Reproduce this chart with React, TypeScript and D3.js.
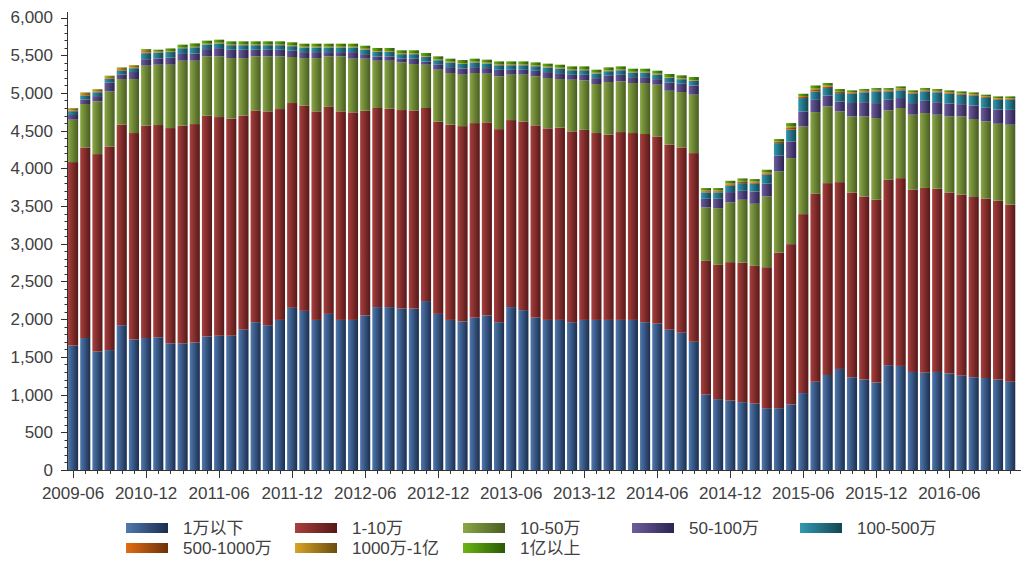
import React from 'react';
import * as d3 from 'd3';

const categories = [
  '2009-06','2009-09','2009-12','2010-03','2010-06','2010-09','2010-12',
  '2011-01','2011-02','2011-03','2011-04','2011-05','2011-06','2011-07','2011-08','2011-09','2011-10','2011-11','2011-12',
  '2012-01','2012-02','2012-03','2012-04','2012-05','2012-06','2012-07','2012-08','2012-09','2012-10','2012-11','2012-12',
  '2013-01','2013-02','2013-03','2013-04','2013-05','2013-06','2013-07','2013-08','2013-09','2013-10','2013-11','2013-12',
  '2014-01','2014-02','2014-03','2014-04','2014-05','2014-06','2014-07','2014-08','2014-09','2014-10','2014-11','2014-12',
  '2015-01','2015-02','2015-03','2015-04','2015-05','2015-06','2015-07','2015-08','2015-09','2015-10','2015-11','2015-12',
  '2016-01','2016-02','2016-03','2016-04','2016-05','2016-06','2016-07','2016-08','2016-09','2016-10','2016-11'
];

const seriesNames = ['1万以下', '1-10万', '10-50万', '50-100万', '100-500万', '500-1000万', '1000万-1亿', '1亿以上'];

const under1w = [1650,1750,1570,1590,1920,1730,1750,1760,1680,1680,
  1690,1770,1780,1780,1860,1960,1920,1990,2150,2110,
  1990,2070,1990,1990,2050,2160,2160,2140,2140,2240,
  2070,1990,1970,2020,2050,1960,2160,2120,2020,1990,
  1990,1960,1990,1990,1990,1990,1990,1960,1940,1860,
  1820,1700,1000,940,920,900,880,820,820,870,
  1020,1170,1260,1340,1230,1200,1160,1390,1380,1300,
  1290,1300,1280,1250,1230,1220,1200,1170];

const w1to10 = [2433,2527,2619,2700,2658,2738,2815,2814,2854,2885,
  2897,2927,2900,2880,2840,2808,2835,2796,2716,2720,
  2765,2745,2765,2752,2714,2640,2630,2633,2628,2560,
  2550,2590,2590,2580,2560,2560,2480,2500,2550,2540,
  2550,2530,2520,2478,2456,2491,2478,2495,2483,2453,
  2457,2502,1773,1780,1836,1851,1827,1869,2063,2125,
  2373,2492,2544,2477,2450,2427,2423,2458,2490,2420,
  2450,2430,2400,2400,2390,2380,2370,2350];

const w10to50 = [562,576,699,730,606,716,796,800,840,862,
  840,788,805,802,762,717,730,699,610,632,
  707,670,730,712,690,627,637,632,615,574,
  688,684,682,664,645,700,602,622,650,668,
  644,685,656,650,699,672,663,676,686,716,
  735,775,708,752,791,832,823,938,1075,1141,
  1162,1084,1017,938,1008,1061,1084,920,930,991,
  993,981,1008,1038,1034,1022,1021,1058];

const w50to100 = [62,61,70,115,62,93,86,84,93,90,
  97,96,109,110,110,87,87,87,83,79,
  79,56,56,87,60,57,57,48,70,43,
  65,78,82,78,74,86,64,64,73,78,
  78,65,74,78,82,87,78,78,74,110,
  109,122,115,124,138,119,163,169,209,221,
  200,162,142,132,178,189,198,141,132,154,
  162,166,172,163,179,181,189,197];

const w100to500 = [50,50,50,50,50,50,80,75,75,75,
  80,60,60,60,60,60,60,60,60,60,
  60,60,60,60,60,60,60,60,60,60,
  60,60,60,60,60,60,60,60,60,60,
  60,60,60,60,60,60,60,60,60,60,
  60,60,84,84,84,102,102,119,168,155,
  177,111,102,111,124,130,155,111,102,125,
  125,130,130,125,130,130,130,135];

const w500to1000 = [8,8,8,8,8,8,10,5,5,3,
  3,4,4,4,4,4,4,4,4,4,
  4,4,4,4,4,4,4,4,4,4,
  4,4,4,4,4,4,4,4,4,4,
  4,4,4,4,4,4,4,4,4,4,
  4,4,16,16,18,17,17,18,14,24,
  15,22,18,14,12,12,12,12,14,12,
  12,12,12,12,12,12,12,12];

const w1000to1y = [30,30,30,30,30,30,35,15,8,5,
  5,8,8,8,8,8,8,8,8,8,
  8,8,8,8,8,8,8,8,8,8,
  8,8,8,8,8,8,8,8,8,8,
  8,8,8,8,8,8,8,8,8,8,
  8,8,12,12,14,13,13,14,11,18,
  12,16,14,11,9,9,9,9,11,9,
  9,9,9,9,9,9,9,9];

const over1y = [5,5,5,5,5,5,10,20,35,40,
  45,40,40,40,40,40,40,40,40,40,
  40,40,40,40,40,40,40,40,40,40,
  40,40,40,40,40,40,40,40,40,40,
  40,40,40,40,40,40,40,40,40,40,
  40,40,30,30,34,32,32,34,28,46,
  30,42,34,28,23,23,23,23,28,23,
  23,23,23,23,23,23,23,23];

const yTickValues = [0, 500, 1000, 1500, 2000, 2500, 3000, 3500, 4000, 4500, 5000, 5500, 6000];

const gradients = [
  ['#5079ae', '#1a2e4f'],
  ['#a8403e', '#561818'],
  ['#8ba746', '#485d21'],
  ['#6e5d9d', '#2b2350'],
  ['#3399b1', '#124652'],
  ['#e36c12', '#6c3108'],
  ['#d9a326', '#6a4d0e'],
  ['#6ab512', '#2a5a06'],
];

const FONT = "'Liberation Sans', Arial, 'Noto Sans CJK SC', sans-serif";
const TEXT = '#404040';

export default function App() {
  const values = [under1w, w1to10, w10to50, w50to100, w100to500, w500to1000, w1000to1y, over1y];
  const rows = categories.map((c, i) => {
    const r: any = { cat: c };
    seriesNames.forEach((k, j) => { r[k] = values[j][i]; });
    return r;
  });
  const stacked = d3.stack().keys(seriesNames)(rows);

  const x = d3.scaleBand().domain(categories).range([67, 1016.3]).paddingInner(0.17).paddingOuter(0.085);
  const y = d3.scaleLinear().domain([0, 6000]).range([470, 17.5]);
  const minor = d3.range(0, 6001, 100);

  const legendCols = [126, 295, 463, 632, 800];

  return (
    <svg width={1036} height={566} style={{ position: 'absolute', left: 0, top: 0, background: '#fff' }}
      fontFamily={FONT}>
      <defs>
        {gradients.map((g, i) => (
          <linearGradient key={i} id={'g' + i} x1="0" x2="1" y1="0" y2="0">
            <stop offset="0" stopColor={g[0]} />
            <stop offset="1" stopColor={g[1]} />
          </linearGradient>
        ))}
      </defs>
      <rect x={0} y={0} width={1036} height={566} fill="#fff" />
      {stacked.map((layer, si) => (
        <g key={si} fill={`url(#g${si})`}>
          {layer.map((d, i) => (
            <rect key={i} x={x(categories[i])} width={x.bandwidth()}
              y={y(d[1])} height={Math.max(0, y(d[0]) - y(d[1]))} />
          ))}
        </g>
      ))}
      {/* y axis */}
      <line x1={67.5} x2={67.5} y1={12} y2={470.5} stroke="#333" strokeWidth={1} />
      {minor.map(v => (
        <line key={v} x1={v % 500 === 0 ? 61 : 64.5} x2={67.5} y1={Math.round(y(v)) + 0.5} y2={Math.round(y(v)) + 0.5}
          stroke="#333" strokeWidth={1} />
      ))}
      {yTickValues.map(v => (
        <text key={v} x={53} y={y(v)} dy="0.35em" textAnchor="end" fontSize={17} fill={TEXT}>
          {d3.format(',')(v)}
        </text>
      ))}
      {/* x axis */}
      <line x1={67} x2={1021} y1={470.5} y2={470.5} stroke="#333" strokeWidth={1} />
      {categories.map((c, i) => {
        const cx = Math.round((x(c) as number) + x.bandwidth() / 2) + 0.5;
        return <line key={c} x1={cx} x2={cx} y1={470} y2={i % 6 === 0 ? 478 : 474} stroke="#333" strokeWidth={1} />;
      })}
      {categories.map((c, i) => i % 6 === 0 ? (
        <text key={c} x={(x(c) as number) + x.bandwidth() / 2} y={499} textAnchor="middle" fontSize={17} fill={TEXT}>{c}</text>
      ) : null)}
      {/* legend */}
      {seriesNames.map((name, i) => {
        const row = i < 5 ? 0 : 1;
        const col = i < 5 ? i : i - 5;
        const sx = legendCols[col];
        const sy = row === 0 ? 523 : 543;
        return (
          <g key={name}>
            <rect x={sx} y={sy} width={42} height={10} fill={`url(#g${i})`} />
            <text x={sx + 57} y={sy + 11} fontSize={17} fill={TEXT}>{name}</text>
          </g>
        );
      })}
    </svg>
  );
}
